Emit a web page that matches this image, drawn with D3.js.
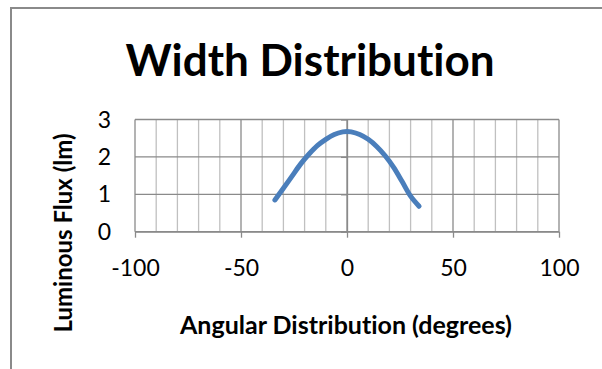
<!DOCTYPE html>
<html><head><meta charset="utf-8">
<script src="https://cdn.jsdelivr.net/npm/d3@7"></script>
<style>body{margin:0;background:#fff}svg{display:block}text{font-family:Lato,"Open Sans",sans-serif;fill:#000;font-variant-ligatures:none;font-feature-settings:"liga" 0}</style>
</head><body>
<script>
const title = "Width Distribution";
const xTitle = "Angular Distribution (degrees)";
const yTitle = "Luminous Flux (lm)";
const angles = [-34, -30, -26, -22, -18, -14, -10, -6, -2, 0, 2, 6, 10, 14, 18, 22, 26, 30, 34];
const flux   = [0.85, 1.16, 1.48, 1.80, 2.07, 2.30, 2.47, 2.60, 2.67, 2.68, 2.67, 2.60, 2.47, 2.28, 2.03, 1.72, 1.34, 0.95, 0.68];
const xTicks = [-100, -50, 0, 50, 100];
const xMinor = [-90,-80,-70,-60,-40,-30,-20,-10,10,20,30,40,60,70,80,90];
const yTicks = [0, 1, 2, 3];

const W = 602, H = 369;
const svg = d3.select("body").append("svg").attr("width", W).attr("height", H);
svg.append("rect").attr("width", W).attr("height", H).attr("fill", "#fff");
// chart border (left & top visible)
svg.append("path").attr("d", "M11,369V8H602").attr("fill", "none").attr("stroke", "#8a8a8a").attr("stroke-width", 2);

const x = d3.scaleLinear().domain([-100, 100]).range([135, 559]);
const y = d3.scaleLinear().domain([0, 3]).range([231.7, 119.5]);

const g = svg.append("g");
g.selectAll(".vmin").data(xMinor).join("line")
  .attr("x1", d => x(d)).attr("x2", d => x(d)).attr("y1", y(0)).attr("y2", y(3))
  .attr("stroke", "#c0c0c0").attr("stroke-width", 1.3);
g.selectAll(".vmaj").data(xTicks).join("line")
  .attr("x1", d => x(d)).attr("x2", d => x(d)).attr("y1", y(0)).attr("y2", y(3))
  .attr("stroke", "#8a8a8a").attr("stroke-width", 1.3);
g.selectAll(".h").data(yTicks).join("line")
  .attr("x1", x(-100)).attr("x2", x(100)).attr("y1", d => y(d)).attr("y2", d => y(d))
  .attr("stroke", "#8a8a8a").attr("stroke-width", 1.3);

// x axis ticks and labels
const xa = svg.append("g").attr("transform", `translate(0,${y(0)})`)
  .call(d3.axisBottom(x).tickValues(xTicks).tickSize(6).tickPadding(22).tickSizeOuter(0).tickFormat(d => String(d)));
xa.select(".domain").attr("stroke", "#8a8a8a").attr("stroke-width", 1.3);
xa.selectAll(".tick line").attr("stroke", "#8a8a8a").attr("stroke-width", 1.3);
xa.selectAll(".tick text").attr("font-size", 23).attr("font-family", "Lato").attr("fill", "#000");

// y axis at x=0 with ticks, labels at left
const ya = svg.append("g").attr("transform", `translate(${x(0)},0)`)
  .call(d3.axisLeft(y).tickValues(yTicks).tickSize(6).tickSizeOuter(0).tickFormat(""));
ya.select(".domain").attr("stroke", "#8a8a8a").attr("stroke-width", 1.3);
ya.selectAll(".tick line").attr("stroke", "#8a8a8a").attr("stroke-width", 1.3);
svg.append("g").selectAll("text").data(yTicks).join("text")
  .attr("x", 111).attr("y", d => y(d)).attr("dy", "0.35em").attr("text-anchor", "end")
  .attr("font-size", 23).text(d => String(d));

// line
const line = d3.line().x((d, i) => x(angles[i])).y(d => y(d)).curve(d3.curveCatmullRom.alpha(0.5));
svg.append("path").datum(flux).attr("d", line).attr("fill", "none")
  .attr("stroke", "#4a7ebb").attr("stroke-width", 5).attr("stroke-linecap", "round").attr("stroke-linejoin", "round");

// titles
svg.append("text").attr("x", 310).attr("y", 76).attr("text-anchor", "middle")
  .attr("font-size", 44).attr("font-weight", "bold").text(title);
svg.append("text").attr("x", 346).attr("y", 334).attr("text-anchor", "middle")
  .attr("font-size", 25).attr("font-weight", "bold").text(xTitle);
svg.append("text").attr("transform", "translate(72,233) rotate(-90)").attr("text-anchor", "middle")
  .attr("font-size", 24).attr("font-weight", "bold").text(yTitle);
</script>
</body></html>
